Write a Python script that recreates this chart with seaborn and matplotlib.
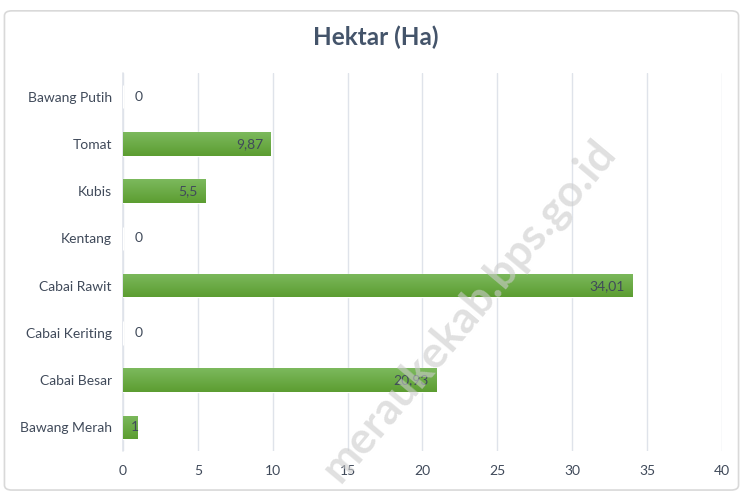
import matplotlib
matplotlib.use("Agg")
import matplotlib.pyplot as plt
import seaborn as sns
import numpy as np
import pandas as pd
from matplotlib.patches import FancyBboxPatch
from matplotlib.colors import LinearSegmentedColormap

categories = ["Bawang Putih", "Tomat", "Kubis", "Kentang", "Cabai Rawit",
              "Cabai Keriting", "Cabai Besar", "Bawang Merah"]
values = [0, 9.87, 5.5, 0, 34.01, 0, 20.93, 1]
value_labels = ["0", "9,87", "5,5", "0", "34,01", "0", "20,93", "1"]
xticks = [0, 5, 10, 15, 20, 25, 30, 35, 40]

sns.set_theme(style="white")
plt.rcParams['font.family'] = ['Lato', 'DejaVu Sans']

df = pd.DataFrame({"cat": categories, "val": values})

fig = plt.figure(figsize=(7.43, 4.93), dpi=100)
ax = fig.add_axes([0.1655, 0.085, 0.806, 0.767])

sns.barplot(data=df, y="cat", x="val", orient="h", color="#6aab45",
            width=0.5, ax=ax, saturation=1)

# gradient fill for bars
grad = np.linspace(0, 1, 64).reshape(-1, 1)
cmap = LinearSegmentedColormap.from_list("g", ["#7cb95d", "#5c9d31"])
for p in ax.patches:
    x0, y0 = p.get_x(), p.get_y()
    w, h = p.get_width(), p.get_height()
    if w <= 0:
        continue
    im = ax.imshow(grad, extent=[x0, x0 + w, y0 + h, y0], cmap=cmap,
                   aspect="auto", zorder=p.get_zorder() + 0.1)
    im.set_clip_path(p)

ax.set_xlim(0, 40)
ax.set_ylim(len(categories) - 0.5, -0.5)
ax.set_xticks(xticks)
ax.set_xticklabels([str(t) for t in xticks])
ax.set_xlabel("")
ax.set_ylabel("")
ax.grid(axis="x", color="#dfe3ea", linewidth=1)
ax.axvline(0, color="#dfe3ea", linewidth=1.2, zorder=0.5, clip_on=False)
ax.set_axisbelow(True)
for s in ax.spines.values():
    s.set_visible(False)
ax.tick_params(axis="both", length=0, labelsize=10, colors="#404a5a", pad=8)
ax.tick_params(axis="x", pad=10)

for i, (v, lab) in enumerate(zip(values, value_labels)):
    if v == 0:
        ax.text(0.75, i, lab, va="center", ha="left", fontsize=10, color="#404a5a", zorder=5)
    elif v < 2:
        ax.text(v + 0.05, i, lab, va="center", ha="right", fontsize=10, color="#404a5a", zorder=5)
    else:
        ax.text(v - 0.5, i, lab, va="center", ha="right", fontsize=10, color="#404a5a", zorder=5)

fig.text(0.506, 0.925, "Hektar (Ha)", ha="center", va="center", fontsize=17.5,
         fontweight="bold", color="#44546a")

# watermark
fig.text(0.63, 0.37, "meraukekab.bps.go.id", ha="center", va="center", fontsize=32,
         fontweight="bold", color="#cccccc", alpha=0.6, rotation=50, zorder=10)

# border
border = FancyBboxPatch((0.006, 0.006), 0.988, 0.972, boxstyle="round,pad=0,rounding_size=0.01",
                        transform=fig.transFigure, fill=False, edgecolor="#d9d9d9",
                        linewidth=1.2)
fig.patches.append(border)

fig.savefig("out.png", dpi=100)
